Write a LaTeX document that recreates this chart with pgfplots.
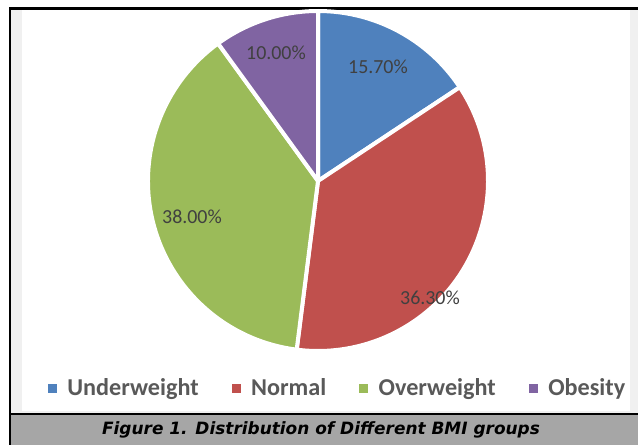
\documentclass[border=0pt]{standalone}
\usepackage{pgfplots}
\pgfplotsset{compat=1.18}
\usepackage{pgfplotstable}
\usepackage{fontspec}
\setmainfont{Carlito}
\newfontfamily\capfont{DejaVu Sans}
\definecolor{pblue}{HTML}{4F81BD}
\definecolor{pred}{HTML}{C0504D}
\definecolor{pgreen}{HTML}{9BBB59}
\definecolor{ppurple}{HTML}{8064A2}
\definecolor{lbl}{HTML}{404040}
\definecolor{legtxt}{HTML}{595959}
\definecolor{capbg}{HTML}{A6A6A6}
\definecolor{strip}{HTML}{F0F0F0}

% BMI group shares (percent)
\pgfplotstableread{
group       share
Underweight 15.7
Normal      36.3
Overweight  38.0
Obesity     10.0
}\bmidata

% pie geometry (picture units = px)
\def\cx{318}\def\cy{264}\def\R{170}
% #1 = cumulative share before slice, #2 = share, #3 = colour
\newcommand\slice[3]{%
  \fill[#3, draw=white, line width=4bp, line join=round]
    (axis cs:\cx,\cy) -- ++({90-3.6*(#1)}:\R bp)
    arc[start angle={90-3.6*(#1)}, end angle={90-3.6*((#1)+(#2))}, radius=\R bp] -- cycle;}

\begin{document}
\begin{tikzpicture}
\begin{axis}[
  x=1bp, y=1bp, xmin=0, xmax=638, ymin=0, ymax=445,
  hide axis, clip=false,
  legend columns=4,
  legend image code/.code={\fill[#1] (0bp,-4bp) rectangle (8bp,4bp);},
  legend style={draw=none, fill=none, inner sep=0pt, outer sep=0pt,
    at={(axis cs:48,57)}, anchor=west,
    font=\fontsize{24.3}{28}\selectfont\bfseries\color{legtxt},
    /tikz/every odd column/.append style={column sep=9bp},
    /tikz/every even column/.append style={column sep=31bp},
    nodes={inner xsep=2bp, inner ysep=0pt}},
]
% frame and background
\fill[capbg] (axis cs:10,0) rectangle (axis cs:638,31);
\fill[strip] (axis cs:10,31) rectangle (axis cs:638,435);
\fill[white] (axis cs:22,34) rectangle (axis cs:630,435);
\draw[black, line width=2.5bp] (axis cs:10,0) -- (axis cs:10,436.25) -- (axis cs:638,436.25);
\draw[black, line width=2bp] (axis cs:10,31) -- (axis cs:638,31);

% slices from the table values: 15.7, 36.3, 38.0, 10.0
\slice{0}{15.7}{pblue}
\slice{15.7}{36.3}{pred}
\slice{52.0}{38.0}{pgreen}
\slice{90.0}{10.0}{ppurple}

\addlegendimage{pblue}\addlegendentry{Underweight}
\addlegendimage{pred}\addlegendentry{Normal}
\addlegendimage{pgreen}\addlegendentry{Overweight}
\addlegendimage{ppurple}\addlegendentry{Obesity}

% data labels
\begin{scope}[every node/.style={font=\fontsize{20}{24}\selectfont, text=lbl}]
\node at (axis cs:378,378) {15.70\%};
\node at (axis cs:430,147) {36.30\%};
\node at (axis cs:192,228) {38.00\%};
\node at (axis cs:276,392) {10.00\%};
\end{scope}

\node[font=\capfont\bfseries\itshape\fontsize{17}{20}\selectfont] at (axis cs:321,15) {Figure 1. Distribution of Different BMI groups};
\end{axis}
\pgfresetboundingbox
\useasboundingbox (0,0) rectangle (638bp,445bp);
\end{tikzpicture}
\end{document}
